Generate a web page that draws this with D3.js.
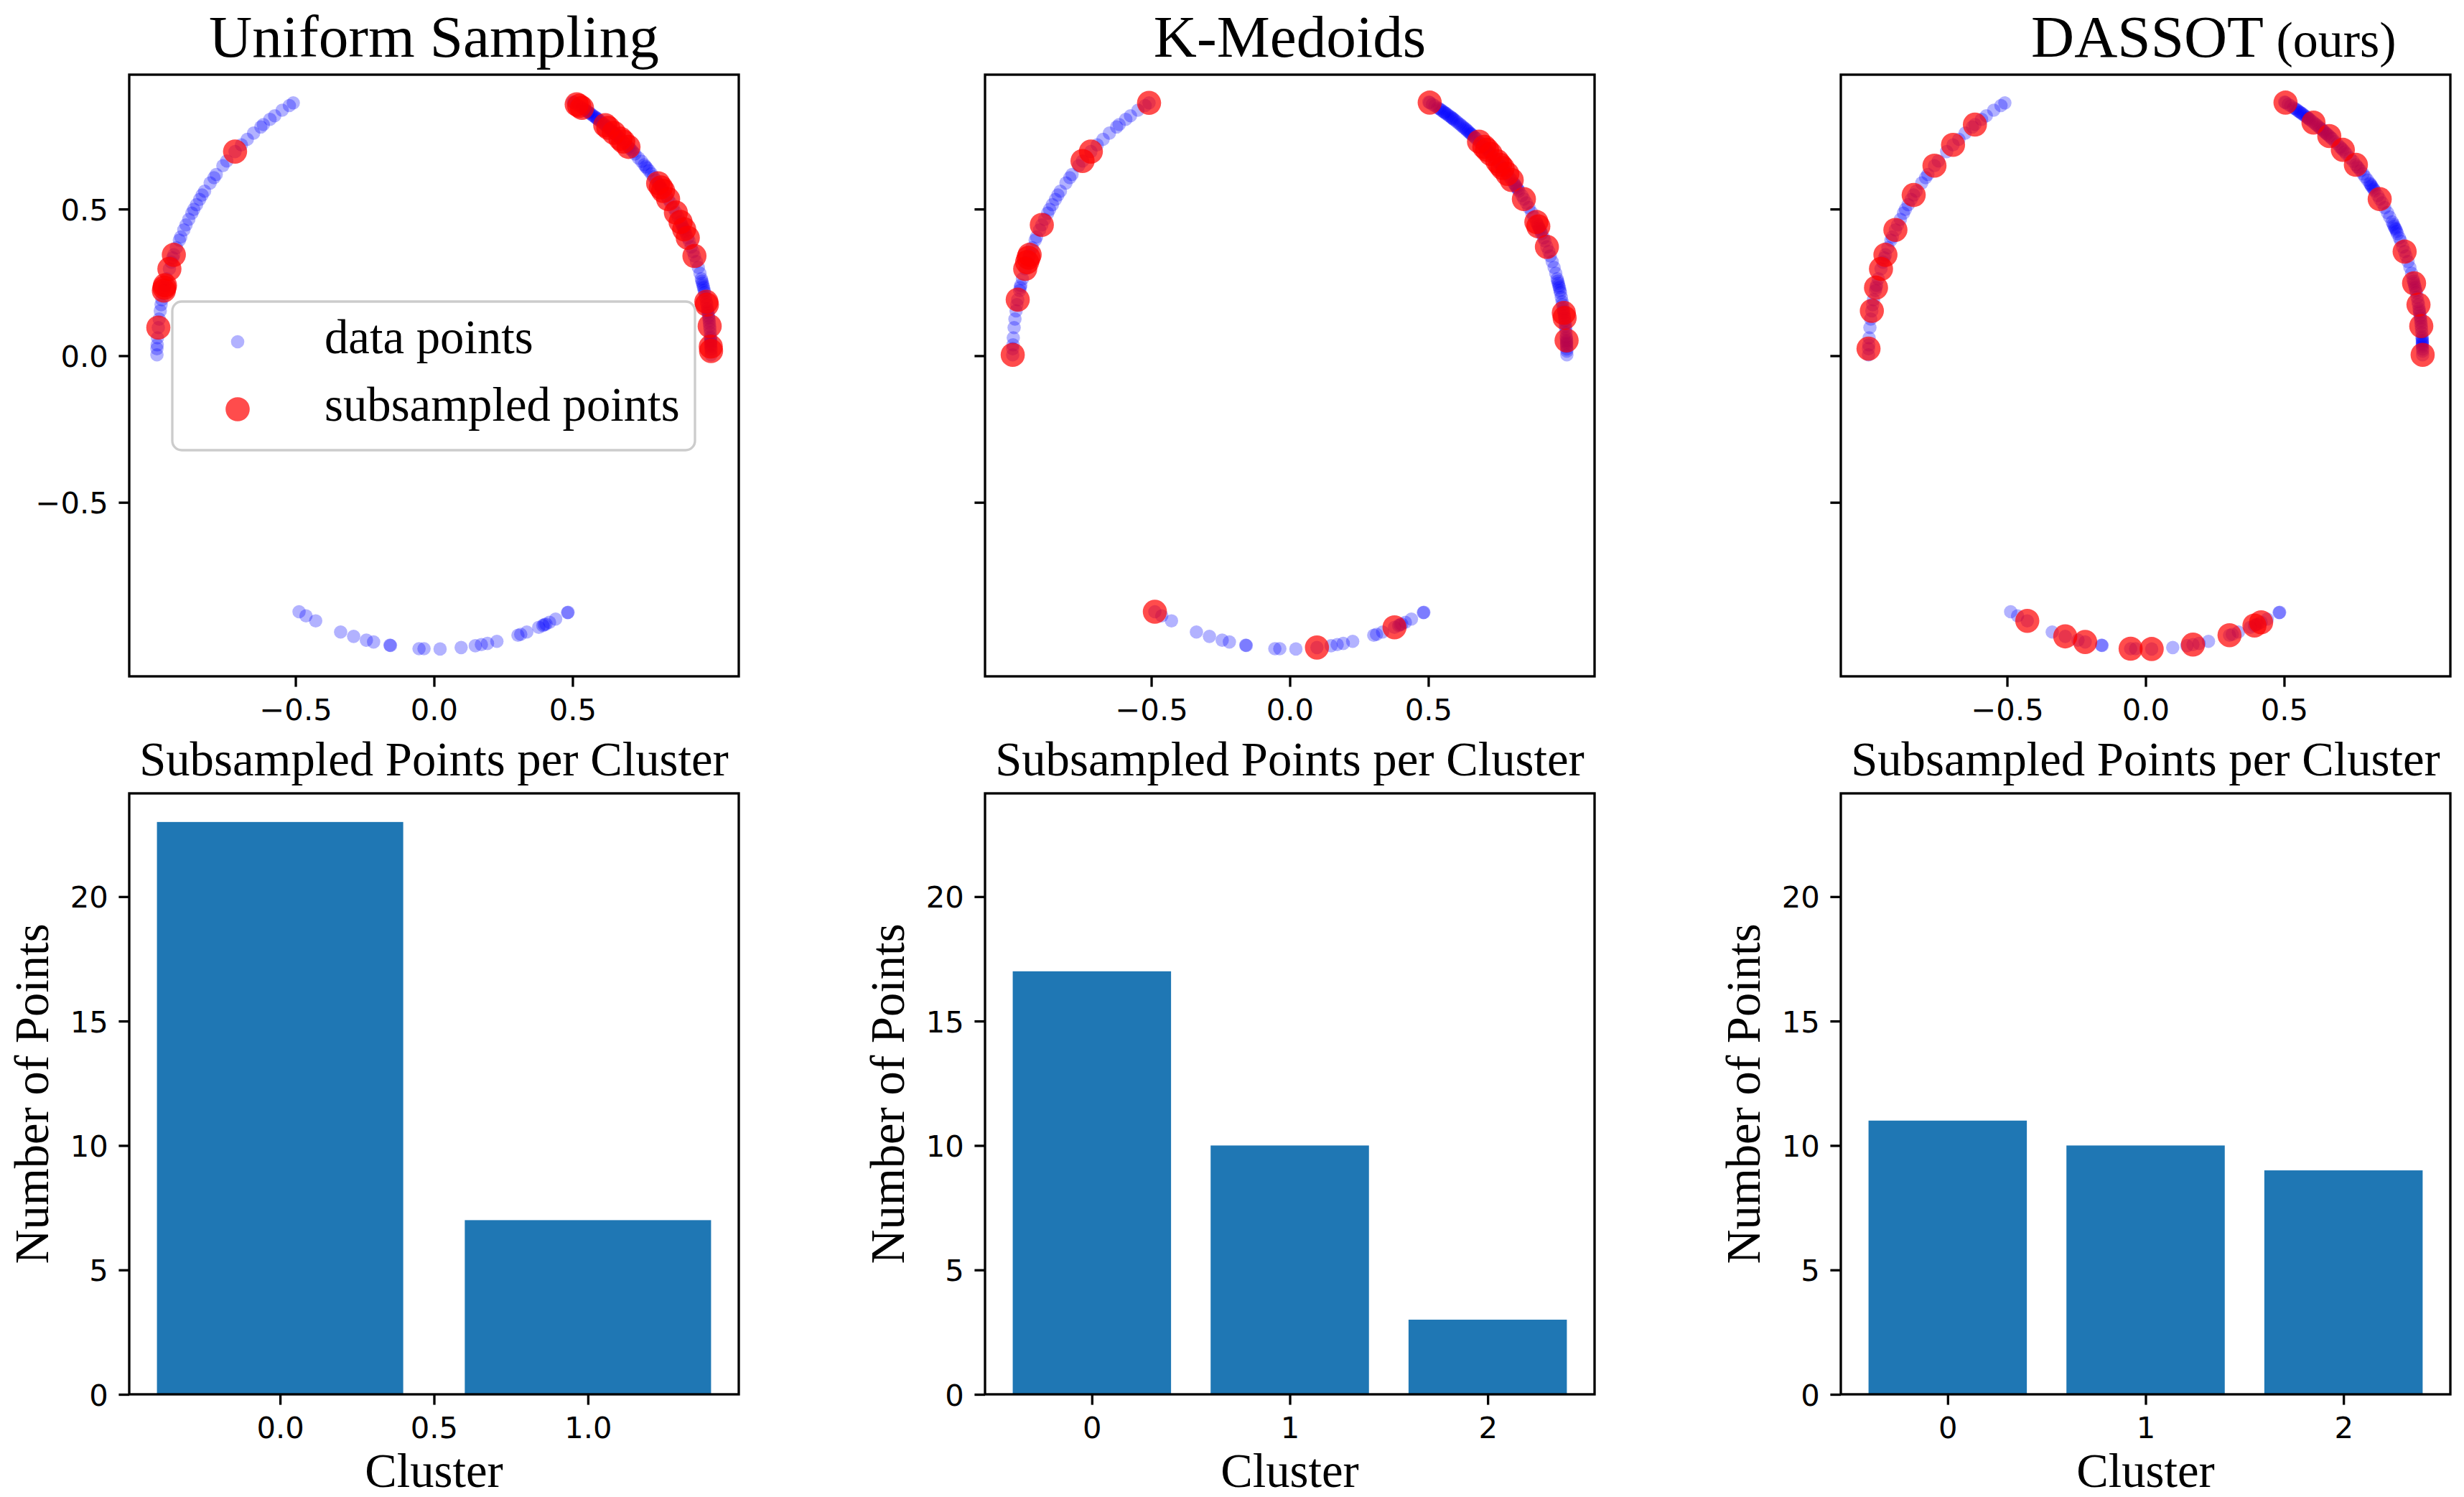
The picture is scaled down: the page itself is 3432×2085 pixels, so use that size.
<!DOCTYPE html>
<html>
<head>
<meta charset="utf-8">
<script src="https://cdn.jsdelivr.net/npm/d3@7"></script>
<style>
body { margin: 0; background: #fff; }
</style>
</head>
<body>
<div id="figure"></div>
<script>
//Data points (same set in the three scatter panels)
var arcTopRight = [[1.000,0.003],[1.000,0.016],[1.000,0.023],[0.999,0.031],[0.999,0.037],[0.999,0.042],[0.999,0.047],[0.999,0.052],[0.998,0.059],[0.998,0.065],
  [0.997,0.078],[0.996,0.091],[0.995,0.101],[0.994,0.111],[0.993,0.120],[0.992,0.129],[0.991,0.136],[0.989,0.146],[0.988,0.153],[0.987,0.160],
  [0.985,0.174],[0.983,0.184],[0.980,0.199],[0.977,0.215],[0.975,0.223],[0.973,0.232],[0.971,0.239],[0.969,0.247],[0.967,0.254],[0.965,0.262],
  [0.960,0.281],[0.954,0.301],[0.947,0.321],[0.940,0.340],[0.935,0.355],[0.928,0.371],[0.921,0.391],[0.916,0.402],[0.909,0.416],[0.906,0.424],
  [0.903,0.431],[0.900,0.435],[0.897,0.441],[0.894,0.448],[0.890,0.456],[0.881,0.473],[0.873,0.488],[0.863,0.505],[0.854,0.521],[0.845,0.534],
  [0.838,0.546],[0.827,0.562],[0.823,0.568],[0.819,0.574],[0.815,0.579],[0.812,0.584],[0.809,0.588],[0.801,0.599],[0.792,0.610],[0.785,0.620],
  [0.776,0.631],[0.768,0.640],[0.764,0.645],[0.759,0.651],[0.749,0.663],[0.738,0.674],[0.725,0.688],[0.719,0.695],[0.712,0.702],[0.707,0.707],
  [0.702,0.712],[0.692,0.722],[0.683,0.730],[0.673,0.740],[0.668,0.744],[0.663,0.749],[0.657,0.754],[0.653,0.757],[0.649,0.760],[0.644,0.765],
  [0.639,0.769],[0.635,0.773],[0.629,0.777],[0.624,0.781],[0.618,0.786],[0.613,0.790],[0.606,0.795],[0.600,0.800],[0.593,0.805],[0.589,0.808],
  [0.585,0.811],[0.581,0.814],[0.575,0.818],[0.569,0.822],[0.564,0.826],[0.559,0.829],[0.556,0.831],[0.550,0.835],[0.545,0.839],[0.540,0.842],
  [0.534,0.845],[0.524,0.852],[0.515,0.857],[0.505,0.863],[0.502,0.865]];

var arcTopLeft = [[-0.508,0.862],[-0.522,0.853],[-0.548,0.837],[-0.575,0.818],[-0.592,0.806],[-0.616,0.788],[-0.625,0.780],[-0.651,0.759],[-0.674,0.738],[-0.695,0.719],
  [-0.718,0.696],[-0.748,0.664],[-0.762,0.648],[-0.786,0.618],[-0.794,0.607],[-0.808,0.589],[-0.828,0.561],[-0.837,0.548],[-0.846,0.533],[-0.857,0.515],
  [-0.867,0.499],[-0.874,0.486],[-0.885,0.465],[-0.895,0.446],[-0.903,0.429],[-0.914,0.405],[-0.919,0.394],[-0.930,0.368],[-0.939,0.344],[-0.943,0.334],
  [-0.948,0.319],[-0.955,0.296],[-0.965,0.262],[-0.971,0.240],[-0.973,0.232],[-0.975,0.222],[-0.982,0.191],[-0.985,0.174],[-0.988,0.153],[-0.992,0.125],
  [-0.995,0.096],[-0.998,0.061],[-0.999,0.037],[-1.000,0.024],[-1.000,0.003]];

var arcBottom = [[-0.487,-0.873],[-0.462,-0.887],[-0.427,-0.904],[-0.337,-0.942],[-0.290,-0.957],[-0.244,-0.970],[-0.218,-0.976],[-0.159,-0.987],[-0.157,-0.988],[-0.054,-0.999],
  [-0.036,-0.999],[0.022,-1.000],[0.098,-0.995],[0.149,-0.989],[0.171,-0.985],[0.193,-0.981],[0.227,-0.974],[0.303,-0.953],[0.313,-0.950],[0.335,-0.942],
  [0.378,-0.926],[0.393,-0.920],[0.398,-0.917],[0.404,-0.915],[0.417,-0.909],[0.439,-0.898],[0.482,-0.876],[0.484,-0.875]];

//Subsampled points of each method
var uniformPicks = [[0.515,0.857],[0.524,0.852],[0.534,0.845],[0.618,0.786],[0.629,0.777],[0.649,0.760],[0.673,0.740],[0.683,0.730],[0.702,0.712],[0.809,0.588],
  [0.819,0.574],[0.827,0.562],[0.845,0.534],[0.873,0.488],[0.890,0.456],[0.903,0.431],[0.916,0.402],[0.940,0.340],[0.983,0.184],[0.985,0.174],
  [0.995,0.101],[0.999,0.031],[1.000,0.016],
  [-0.718,0.696],[-0.939,0.344],[-0.955,0.296],[-0.971,0.240],[-0.973,0.232],[-0.975,0.222],[-0.995,0.096]];

var kmedoidsPicks = [[0.505,0.863],[0.683,0.730],[0.702,0.712],[0.712,0.702],[0.725,0.688],[0.749,0.663],[0.759,0.651],[0.768,0.640],[0.785,0.620],[0.801,0.599],
  [0.845,0.534],[0.890,0.456],[0.897,0.441],[0.928,0.371],[0.989,0.146],[0.992,0.129],[0.999,0.052],
  [-0.508,0.862],[-0.718,0.696],[-0.748,0.664],[-0.895,0.446],[-0.939,0.344],[-0.943,0.334],[-0.948,0.319],[-0.955,0.296],[-0.982,0.191],[-1.000,0.003],
  [-0.487,-0.873],[0.098,-0.995],[0.378,-0.926]];

var dassotPicks = [[0.505,0.863],[0.606,0.795],[0.663,0.749],[0.712,0.702],[0.759,0.651],[0.845,0.534],[0.935,0.355],[0.969,0.247],[0.985,0.174],[0.995,0.101],[1.000,0.003],
  [-1.000,0.024],[-0.988,0.153],[-0.973,0.232],[-0.955,0.296],[-0.939,0.344],[-0.903,0.429],[-0.837,0.548],[-0.762,0.648],[-0.695,0.719],[-0.616,0.788],
  [-0.427,-0.904],[-0.290,-0.957],[-0.218,-0.976],[-0.054,-0.999],[0.022,-1.000],[0.171,-0.985],[0.303,-0.953],[0.393,-0.920],[0.417,-0.909]];

//Bar chart values
var clustersUniform = [0, 1];
var countsUniform = [23, 7];
var clustersOther = [0, 1, 2];
var countsKMedoids = [17, 10, 3];
var countsDassot = [11, 10, 9];

//Texts and ticks
var panelTitles = ["Uniform Sampling", "K-Medoids", "DASSOT"];
var oursSuffix = " (ours)";
var scatterTicks = [-0.5, 0, 0.5];
var barYTicks = [0, 5, 10, 15, 20];
var uniformXTicks = [0, 0.5, 1];

//Layout
var w = 3432, h = 2085;
var colLeft = [180, 1372, 2564];
var panelW = 849;
var topY = 104, topH = 838;
var botY = 1105, botH = 837;
var tickLen = 14.6, tickPad = 14.6, lineW = 3.33;
var dotR = 9.3, pickR = 16.8;
var serif = "Liberation Serif, Times New Roman, serif";
var sans = "DejaVu Sans, sans-serif";

var svg = d3.select("#figure")
  .append("svg")
  .attr("width", w)
  .attr("height", h)
  .style("background", "#fff");

function styleAxis(g, dy) {
  g.attr("font-family", sans).attr("font-size", 41.7);
  g.select(".domain").remove();
  g.selectAll(".tick line").attr("stroke", "#000").attr("stroke-width", lineW);
  g.selectAll(".tick text").attr("fill", "#000").attr("dy", dy);
}

function frame(x, y, fw, fh) {
  svg.append("rect")
    .attr("x", x).attr("y", y)
    .attr("width", fw).attr("height", fh)
    .attr("fill", "none")
    .attr("stroke", "#000")
    .attr("stroke-width", lineW);
}

//Scatter domain with matplotlib-like 5% margins
var allData = arcTopRight.concat(arcTopLeft, arcBottom);
var xExt = d3.extent(allData, function(d) { return d[0]; });
var yExt = d3.extent(allData, function(d) { return d[1]; });
var xPad = (xExt[1] - xExt[0]) * 0.05;
var yPad = (yExt[1] - yExt[0]) * 0.05;

var picks = [uniformPicks, kmedoidsPicks, dassotPicks];

picks.forEach(function(sub, i) {
  var left = colLeft[i];
  var xScale = d3.scaleLinear().domain([xExt[0] - xPad, xExt[1] + xPad]).range([left, left + panelW]);
  var yScale = d3.scaleLinear().domain([yExt[0] - yPad, yExt[1] + yPad]).range([topY + topH, topY]);

  svg.append("clipPath").attr("id", "clip" + i)
    .append("rect").attr("x", left).attr("y", topY).attr("width", panelW).attr("height", topH);

  var g = svg.append("g").attr("clip-path", "url(#clip" + i + ")");

  g.selectAll(".data")
    .data(allData)
    .enter()
    .append("circle")
    .attr("class", "data")
    .attr("cx", function(d) { return xScale(d[0]); })
    .attr("cy", function(d) { return yScale(d[1]); })
    .attr("r", dotR)
    .attr("fill", "blue")
    .attr("fill-opacity", 0.3);

  g.selectAll(".pick")
    .data(sub)
    .enter()
    .append("circle")
    .attr("class", "pick")
    .attr("cx", function(d) { return xScale(d[0]); })
    .attr("cy", function(d) { return yScale(d[1]); })
    .attr("r", pickR)
    .attr("fill", "red")
    .attr("fill-opacity", 0.7);

  //Axes
  svg.append("g")
    .attr("transform", "translate(0," + (topY + topH) + ")")
    .call(d3.axisBottom(xScale).tickValues(scatterTicks).tickFormat(d3.format(".1f")).tickSize(tickLen).tickPadding(tickPad))
    .call(styleAxis, "0.76em");

  svg.append("g")
    .attr("transform", "translate(" + left + ",0)")
    .call(d3.axisLeft(yScale).tickValues(scatterTicks).tickFormat(i === 0 ? d3.format(".1f") : function() { return ""; }).tickSize(tickLen).tickPadding(tickPad))
    .call(styleAxis, "0.36em");

  frame(left, topY, panelW, topH);

  //Title
  var title = svg.append("text")
    .attr("y", topY - 25)
    .attr("font-family", serif)
    .attr("font-size", 83.3)
    .attr("fill", "#000");
  if (i === 2) {
    title.attr("x", left + 265).style("text-anchor", "start");
    title.append("tspan").text(panelTitles[i]);
    title.append("tspan").attr("font-size", 70).text(oursSuffix);
  } else {
    title.attr("x", left + panelW / 2).style("text-anchor", "middle").text(panelTitles[i]);
  }
});

//Legend in first panel
var legend = svg.append("g");
legend.append("rect")
  .attr("x", 240).attr("y", 420)
  .attr("width", 728).attr("height", 207)
  .attr("rx", 13).attr("ry", 13)
  .attr("fill", "#fff").attr("fill-opacity", 0.8)
  .attr("stroke", "#cccccc").attr("stroke-width", lineW);
legend.append("circle").attr("cx", 331).attr("cy", 476).attr("r", dotR).attr("fill", "blue").attr("fill-opacity", 0.3);
legend.append("circle").attr("cx", 331).attr("cy", 570).attr("r", pickR).attr("fill", "red").attr("fill-opacity", 0.7);
legend.append("text").attr("x", 452).attr("y", 492).attr("font-family", serif).attr("font-size", 66.7).text("data points");
legend.append("text").attr("x", 452).attr("y", 586).attr("font-family", serif).attr("font-size", 66.7).text("subsampled points");

//Bar charts
var barSets = [
  { clusters: clustersUniform, counts: countsUniform, ticks: uniformXTicks, fmt: d3.format(".1f") },
  { clusters: clustersOther, counts: countsKMedoids, ticks: clustersOther, fmt: d3.format("d") },
  { clusters: clustersOther, counts: countsDassot, ticks: clustersOther, fmt: d3.format("d") }
];

var maxCount = d3.max(barSets, function(s) { return d3.max(s.counts); });
var yBar = d3.scaleLinear().domain([0, maxCount * 1.05]).range([botY + botH, botY]);

barSets.forEach(function(s, i) {
  var left = colLeft[i];
  var lo = d3.min(s.clusters) - 0.4, hi = d3.max(s.clusters) + 0.4;
  var m = (hi - lo) * 0.05;
  var xBar = d3.scaleLinear().domain([lo - m, hi + m]).range([left, left + panelW]);

  svg.selectAll(".bar" + i)
    .data(s.clusters)
    .enter()
    .append("rect")
    .attr("class", "bar" + i)
    .attr("x", function(d) { return xBar(d - 0.4); })
    .attr("y", function(d, j) { return yBar(s.counts[j]); })
    .attr("width", function(d) { return xBar(d + 0.4) - xBar(d - 0.4); })
    .attr("height", function(d, j) { return yBar(0) - yBar(s.counts[j]); })
    .attr("fill", "#1f77b4");

  svg.append("g")
    .attr("transform", "translate(0," + (botY + botH) + ")")
    .call(d3.axisBottom(xBar).tickValues(s.ticks).tickFormat(s.fmt).tickSize(tickLen).tickPadding(tickPad))
    .call(styleAxis, "0.76em");

  svg.append("g")
    .attr("transform", "translate(" + left + ",0)")
    .call(d3.axisLeft(yBar).tickValues(barYTicks).tickFormat(d3.format("d")).tickSize(tickLen).tickPadding(tickPad))
    .call(styleAxis, "0.36em");

  frame(left, botY, panelW, botH);

  svg.append("text")
    .attr("x", left + panelW / 2)
    .attr("y", botY - 25)
    .attr("font-family", serif)
    .attr("font-size", 66.7)
    .style("text-anchor", "middle")
    .text("Subsampled Points per Cluster");

  svg.append("text")
    .attr("x", left + panelW / 2)
    .attr("y", 2071)
    .attr("font-family", serif)
    .attr("font-size", 66.7)
    .style("text-anchor", "middle")
    .text("Cluster");

  svg.append("text")
    .attr("transform", "translate(" + (left - 113) + "," + (botY + botH / 2) + ") rotate(-90)")
    .attr("font-family", serif)
    .attr("font-size", 66.7)
    .style("text-anchor", "middle")
    .text("Number of Points");
});
</script>
</body>
</html>
